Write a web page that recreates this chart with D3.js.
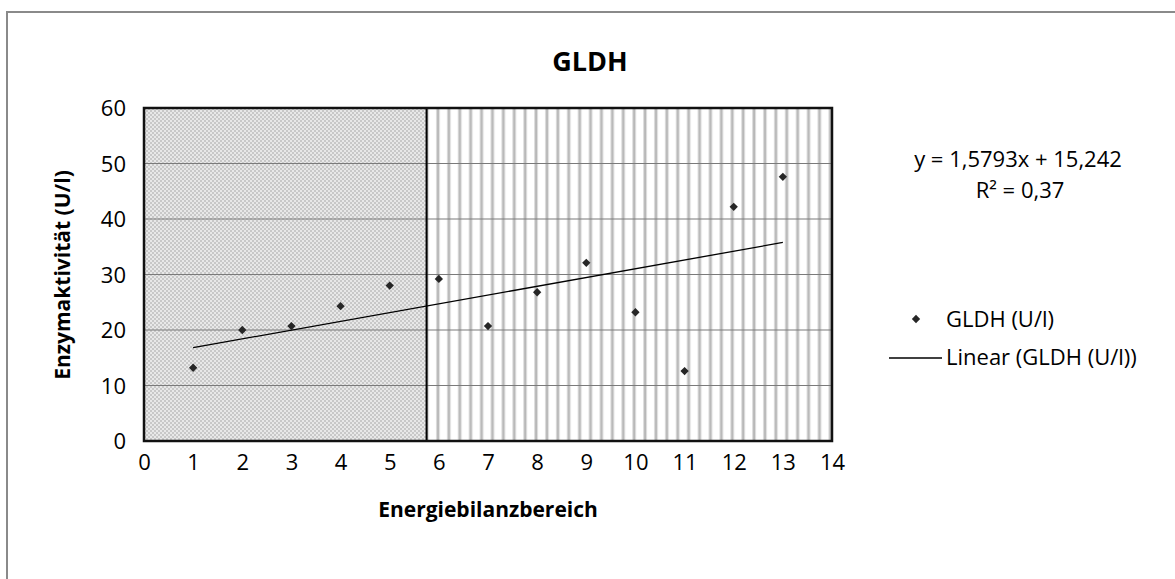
<!DOCTYPE html>
<html>
<head>
<meta charset="utf-8">
<script src="https://cdn.jsdelivr.net/npm/d3@7"></script>
<style>
  body { margin: 0; background: #fff; }
  text { font-family: "Open Sans", "Noto Sans", sans-serif; fill: #000; }
</style>
</head>
<body>
<svg id="chart" width="1175" height="579"></svg>
<script>
// data
var xVals = [1, 2, 3, 4, 5, 6, 7, 8, 9, 10, 11, 12, 13];
var yVals = [13.2, 20.0, 20.7, 24.3, 28.0, 29.2, 20.7, 26.8, 32.1, 23.2, 12.6, 42.2, 47.6];
var trendSlope = 1.5793, trendIntercept = 15.242;
var xTicks = d3.range(0, 15, 1);
var yTicks = [0, 10, 20, 30, 40, 50, 60];
var regionSplit = 5.75; // boundary between the two shaded areas

var svg = d3.select("#chart");
var defs = svg.append("defs");

// dotted pattern (left area)
var pd = defs.append("pattern").attr("id", "dots")
    .attr("patternUnits", "userSpaceOnUse").attr("width", 4).attr("height", 4);
pd.append("rect").attr("width", 4).attr("height", 4).attr("fill", "#e8e8e8");
pd.append("rect").attr("x", 0).attr("y", 0).attr("width", 2).attr("height", 2).attr("fill", "#c8c8c8");
pd.append("rect").attr("x", 2).attr("y", 2).attr("width", 2).attr("height", 2).attr("fill", "#c8c8c8");

// vertical stripe pattern (right area)
var ps = defs.append("pattern").attr("id", "stripes")
    .attr("patternUnits", "userSpaceOnUse").attr("width", 10.9).attr("height", 10)
    .attr("x", 430);
ps.append("rect").attr("width", 10.9).attr("height", 10).attr("fill", "#fff");
ps.append("rect").attr("x", 6).attr("width", 1).attr("height", 10).attr("fill", "#dcdcdc");
ps.append("rect").attr("x", 7).attr("width", 2).attr("height", 10).attr("fill", "#b8b8b8");
ps.append("rect").attr("x", 9).attr("width", 1).attr("height", 10).attr("fill", "#dcdcdc");

// outer chart frame
svg.append("rect")
    .attr("x", 7).attr("y", 12).attr("width", 1300).attr("height", 700)
    .attr("fill", "none").attr("stroke", "#8a8a8a").attr("stroke-width", 2);

var plot = {left: 144, right: 832, top: 108, bottom: 441};

var x = d3.scaleLinear().domain([0, 14]).range([plot.left, plot.right]);
var y = d3.scaleLinear().domain([0, 60]).range([plot.bottom, plot.top]);

// shaded regions
svg.append("rect")
    .attr("x", x(0)).attr("y", y(60))
    .attr("width", x(regionSplit) - x(0)).attr("height", y(0) - y(60))
    .attr("fill", "url(#dots)");
svg.append("rect")
    .attr("x", x(regionSplit)).attr("y", y(60))
    .attr("width", x(14) - x(regionSplit)).attr("height", y(0) - y(60))
    .attr("fill", "url(#stripes)");

// horizontal gridlines
svg.append("g").selectAll("line")
    .data(yTicks.filter(function(d){ return d > 0 && d < 60 }))
    .enter().append("line")
    .attr("x1", x(0)).attr("x2", x(14))
    .attr("y1", function(d){ return y(d) }).attr("y2", function(d){ return y(d) })
    .attr("stroke", "#7a7a7a").attr("stroke-width", 1.2);

// split line
svg.append("line")
    .attr("x1", x(regionSplit)).attr("x2", x(regionSplit))
    .attr("y1", y(60)).attr("y2", y(0))
    .attr("stroke", "#000").attr("stroke-width", 2);

// plot frame
svg.append("rect")
    .attr("x", plot.left).attr("y", plot.top)
    .attr("width", plot.right - plot.left).attr("height", plot.bottom - plot.top)
    .attr("fill", "none").attr("stroke", "#111").attr("stroke-width", 2.5);

// axes (labels only, like the original)
var xAxis = svg.append("g")
    .attr("transform", "translate(0," + (plot.bottom + 29) + ")")
    .call(d3.axisBottom(x).tickValues(xTicks).tickSize(0).tickPadding(0));
xAxis.select(".domain").remove();
xAxis.selectAll("text").style("font-size", "22px").attr("dy", null).attr("y", 0);

var yAxis = svg.append("g")
    .attr("transform", "translate(" + (plot.left - 18) + ",0)")
    .call(d3.axisLeft(y).tickValues(yTicks).tickSize(0).tickPadding(0));
yAxis.select(".domain").remove();
yAxis.selectAll("text").style("font-size", "22px").attr("dy", "0.36em");

// trendline
var trend = [1, 13].map(function(v){ return {x: v, y: trendSlope * v + trendIntercept} });
svg.append("path")
    .datum(trend)
    .attr("d", d3.line().x(function(d){ return x(d.x) }).y(function(d){ return y(d.y) }))
    .attr("stroke", "#000").attr("stroke-width", 1.3).attr("fill", "none");

// markers
var diamond = d3.symbol().type(d3.symbolDiamond2).size(44);
svg.append("g").selectAll("path")
    .data(xVals.map(function(v, i){ return {x: v, y: yVals[i]} }))
    .enter().append("path")
    .attr("d", diamond)
    .attr("transform", function(d){ return "translate(" + x(d.x) + "," + y(d.y) + ")" })
    .attr("fill", "#262626");

// title and axis titles
svg.append("text").attr("x", 590).attr("y", 71)
    .attr("text-anchor", "middle").style("font-size", "27px").style("font-weight", "bold")
    .text("GLDH");
svg.append("text").attr("x", 488).attr("y", 517)
    .attr("text-anchor", "middle").style("font-size", "21px").style("font-weight", "bold")
    .text("Energiebilanzbereich");
svg.append("text")
    .attr("transform", "translate(70,275) rotate(-90)")
    .attr("text-anchor", "middle").style("font-size", "21px").style("font-weight", "bold")
    .text("Enzymaktivität (U/l)");

// equation
svg.append("text").attr("x", 1018).attr("y", 167)
    .attr("text-anchor", "middle").style("font-size", "22px")
    .text("y = 1,5793x + 15,242");
svg.append("text").attr("x", 1020).attr("y", 198)
    .attr("text-anchor", "middle").style("font-size", "22px")
    .text("R² = 0,37");

// legend
svg.append("path").attr("d", diamond)
    .attr("transform", "translate(916,319)").attr("fill", "#262626");
svg.append("text").attr("x", 946).attr("y", 327).style("font-size", "22px").text("GLDH (U/l)");
svg.append("line").attr("x1", 889).attr("x2", 942).attr("y1", 358).attr("y2", 358)
    .attr("stroke", "#000").attr("stroke-width", 1.3);
svg.append("text").attr("x", 946).attr("y", 365).style("font-size", "22px").text("Linear (GLDH (U/l))");
</script>
</body>
</html>
